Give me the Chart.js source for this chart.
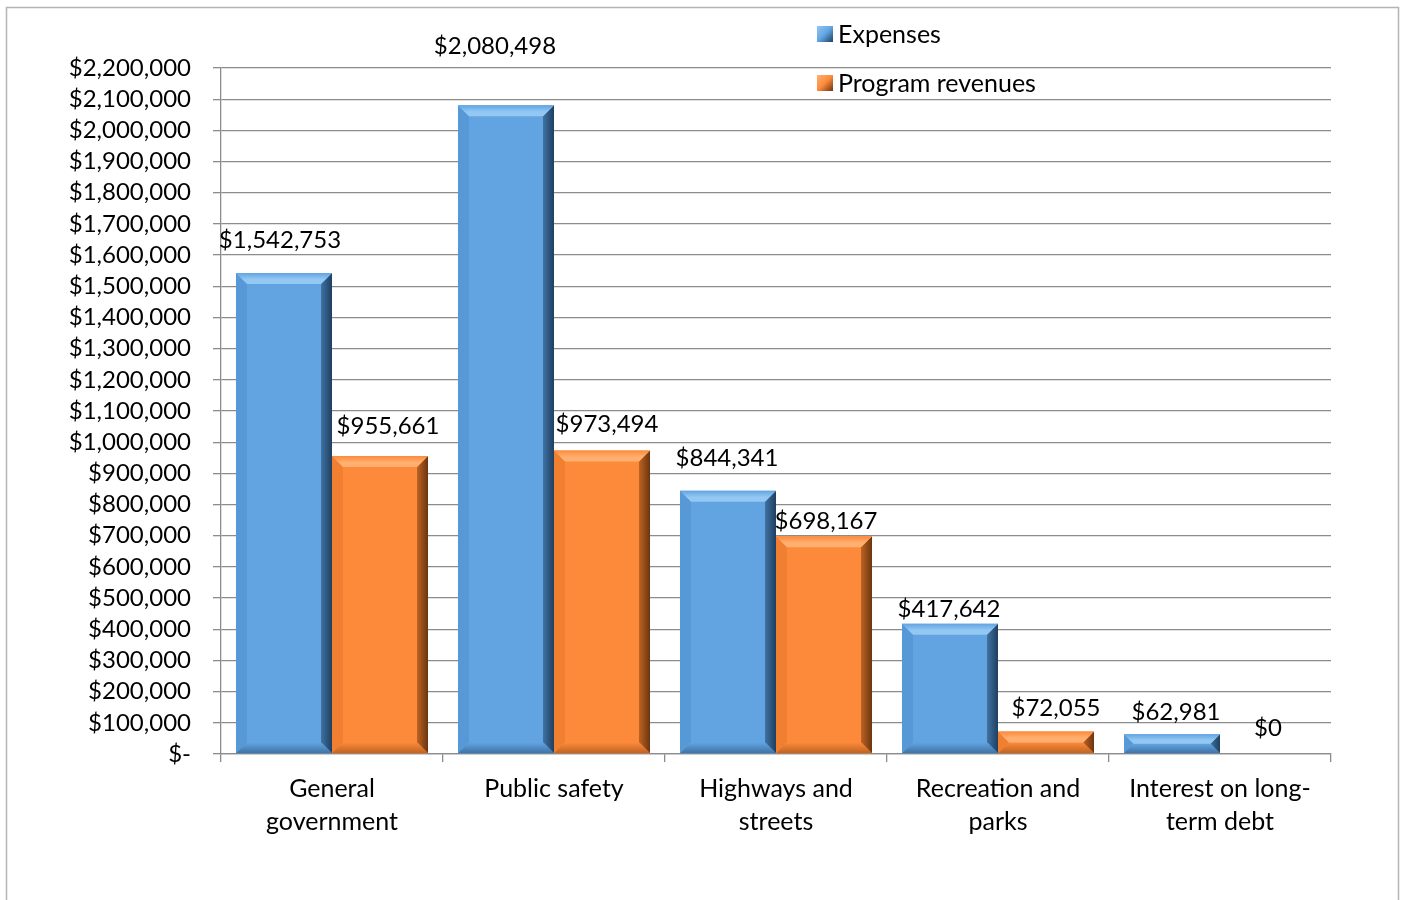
<!DOCTYPE html>
<html>
<head>
<meta charset="utf-8">
<script src="https://cdn.jsdelivr.net/npm/chart.js@4"></script>
<style>
  html, body { margin: 0; padding: 0; background: #ffffff; }
  canvas { display: block; }
</style>
</head>
<body>
<canvas id="chart" width="1401" height="900"></canvas>
<script>
// Data
const categories = [
    ['General', 'government'],
    'Public safety',
    ['Highways and', 'streets'],
    ['Recreation and', 'parks'],
    ['Interest on long-', 'term debt']
];
const expenses = [1542753, 2080498, 844341, 417642, 62981];
const programRevenues = [955661, 973494, 698167, 72055, 0];
const seriesNames = ['Expenses', 'Program revenues'];

// Axis range
const yMax = 2200000;
const yStep = 100000;

// Manual label nudges (Excel labels were dragged around a bit) [dx, lift] in px
const labelNudge = [
    [[-4, 33], [-11, 59], [-1, 32], [-1, 15], [4, 22]],
    [[8, 30], [5, 26], [2, 15], [10, 23], [0, 26]]
];

const FONT = 'Lato, "Open Sans", sans-serif';
const fmtMoney = v => v === 0 ? '$-' : '$' + v.toLocaleString('en-US');

// Colours for the bevelled bars
const palettes = [
    { main: '#62a4e2', top: '#93c8f3', left: '#5799d6', right: '#1f3f60', bottom: '#3f72a3' },
    { main: '#fd8a3b', top: '#ffb070', left: '#f17f31', right: '#6b3510', bottom: '#bd6322' }
];

function poly(ctx, pts, fill) {
    ctx.beginPath();
    ctx.moveTo(pts[0][0], pts[0][1]);
    for (let i = 1; i < pts.length; i++) ctx.lineTo(pts[i][0], pts[i][1]);
    ctx.closePath();
    ctx.fillStyle = fill;
    ctx.fill();
}

// Bevel look drawn on top of each bar, using the bar elements' own geometry
const bevelPlugin = {
    id: 'bevel',
    afterDatasetsDraw(chart) {
        const ctx = chart.ctx;
        chart.data.datasets.forEach((ds, di) => {
            const p = palettes[di];
            chart.getDatasetMeta(di).data.forEach(bar => {
                const { x, y, base, width } = bar.getProps(['x', 'y', 'base', 'width'], true);
                const l = x - width / 2, r = x + width / 2;
                const t = Math.min(y, base), b = Math.max(y, base);
                const h = b - t;
                if (h < 1) return;
                const e = Math.min(11, h / 2, width / 2);
                ctx.save();
                poly(ctx, [[l, t], [l + e, t + e], [l + e, b - e], [l, b]], p.left);
                const g = ctx.createLinearGradient(r - e, 0, r, 0);
                g.addColorStop(0, p.bottom);
                g.addColorStop(1, p.right);
                poly(ctx, [[r, t], [r, b], [r - e, b - e], [r - e, t + e]], g);
                const gb = ctx.createLinearGradient(0, b - e, 0, b);
                gb.addColorStop(0, p.main);
                gb.addColorStop(1, p.bottom);
                poly(ctx, [[l, b], [r, b], [r - e, b - e], [l + e, b - e]], gb);
                const gt = ctx.createLinearGradient(0, t, 0, t + e);
                gt.addColorStop(0, p.main);
                gt.addColorStop(0.6, p.top);
                gt.addColorStop(1, p.top);
                poly(ctx, [[l, t], [r, t], [r - e, t + e], [l + e, t + e]], gt);
                ctx.restore();
            });
        });
    }
};

// Value labels above the bars
const valueLabels = {
    id: 'valueLabels',
    afterDatasetsDraw(chart) {
        const ctx = chart.ctx;
        ctx.save();
        ctx.font = '24px ' + FONT;
        ctx.fillStyle = '#000000';
        ctx.textAlign = 'center';
        ctx.textBaseline = 'middle';
        chart.data.datasets.forEach((ds, di) => {
            chart.getDatasetMeta(di).data.forEach((bar, i) => {
                const n = labelNudge[di][i];
                ctx.fillText(fmtMoney(ds.data[i]).replace('$-', '$0'), bar.x + n[0], bar.y - n[1]);
            });
        });
        ctx.restore();
    }
};

// Frame and legend in the upper right, like the Excel original
const frameLegend = {
    id: 'frameLegend',
    beforeDraw(chart) {
        const ctx = chart.ctx;
        ctx.save();
        ctx.fillStyle = '#ffffff';
        ctx.fillRect(0, 0, chart.width, chart.height);
        ctx.strokeStyle = '#b4b4b4';
        ctx.lineWidth = 1.5;
        ctx.strokeRect(6.5, 7.5, 1392, 920);
        ctx.restore();
    },
    afterDraw(chart) {
        const ctx = chart.ctx;
        ctx.save();
        ctx.font = '25px ' + FONT;
        ctx.textBaseline = 'middle';
        ctx.textAlign = 'left';
        const rows = [34, 83];
        seriesNames.forEach((name, i) => {
            const p = palettes[i];
            const cy = rows[i], sx = 817, s = 16;
            const g = ctx.createLinearGradient(sx, cy - s / 2, sx + s, cy + s / 2);
            g.addColorStop(0, p.top);
            g.addColorStop(0.5, p.main);
            g.addColorStop(1, p.right);
            ctx.fillStyle = g;
            ctx.fillRect(sx, cy - s / 2, s, s);
            ctx.fillStyle = '#000000';
            ctx.fillText(name, 838, cy + 1);
        });
        ctx.restore();
    }
};

new Chart(document.getElementById('chart'), {
    type: 'bar',
    data: {
        labels: categories,
        datasets: [
            { label: seriesNames[0], data: expenses, backgroundColor: palettes[0].main, borderWidth: 0 },
            { label: seriesNames[1], data: programRevenues, backgroundColor: palettes[1].main, borderWidth: 0 }
        ]
    },
    options: {
        responsive: false,
        animation: false,
        layout: { padding: { left: 0, right: 70, top: 68, bottom: 0 } },
        datasets: { bar: { categoryPercentage: 0.865, barPercentage: 1.0 } },
        plugins: {
            legend: { display: false },
            tooltip: { enabled: false }
        },
        scales: {
            x: {
                afterFit: s => { s.height = 146; },
                grid: { offset: true, drawOnChartArea: false, tickLength: 8, color: '#8c8c8c', lineWidth: 1.3 },
                border: { color: '#8c8c8c', width: 1.3 },
                ticks: {
                    color: '#000000',
                    font: { family: FONT, size: 25, lineHeight: 1.32 },
                    padding: 10,
                    maxRotation: 0,
                    autoSkip: false
                }
            },
            y: {
                min: 0,
                max: yMax,
                afterFit: s => { s.width = 221; },
                grid: { color: '#8c8c8c', lineWidth: 1.3, tickLength: 8 },
                border: { color: '#8c8c8c', width: 1.3 },
                ticks: {
                    stepSize: yStep,
                    autoSkip: false,
                    color: '#000000',
                    font: { family: FONT, size: 24, lineHeight: 1.0 },
                    padding: 22,
                    callback: v => fmtMoney(v)
                }
            }
        }
    },
    plugins: [frameLegend, bevelPlugin, valueLabels]
});
</script>
</body>
</html>
